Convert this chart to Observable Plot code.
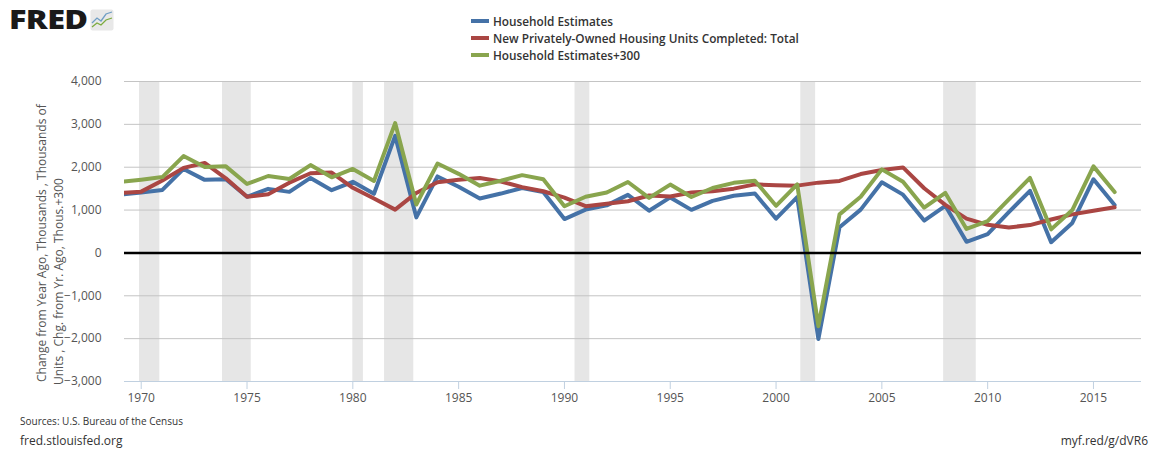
<!DOCTYPE html>
<html>
<head>
<meta charset="utf-8">
<script src="https://cdn.jsdelivr.net/npm/d3@7"></script>
<script src="https://cdn.jsdelivr.net/npm/@observablehq/plot@0.6"></script>
<style>
  body { margin: 0; background: #fff; font-family: "Open Sans", sans-serif; }
  #wrap { position: relative; width: 1168px; height: 450px; overflow: hidden; background: #fff; }
  #logotext { position: absolute; left: 9px; top: 3px; font-family: "Open Sans", "DejaVu Sans", sans-serif; font-weight: 800; font-size: 27px; letter-spacing: -0.5px; color: #1a1a1a; line-height: 32px; transform: scaleX(1.2); transform-origin: 0 0; }
  #logoicon { position: absolute; left: 90px; top: 9px; }
  #legend { position: absolute; left: 471px; top: 12px; font-size: 11.8px; color: #333; font-weight: 600; }
  .lg { display: flex; align-items: center; height: 17.3px; }
  .sw { width: 18px; height: 4px; margin-right: 4px; }
  #chart { position: absolute; left: 0; top: 70px; }
  .yt { position: absolute; white-space: nowrap; font-size: 12px; color: #555; transform-origin: 0 0; transform: rotate(-90deg); }
  #src { position: absolute; left: 20px; top: 414px; font-size: 10px; color: #333; }
  #site { position: absolute; left: 20px; top: 432px; font-size: 12px; color: #333; }
  #link { position: absolute; right: 20px; top: 432px; font-size: 12px; color: #333; }
</style>
</head>
<body>
<div id="wrap">
  <div id="logotext">FRED</div>
  <svg id="logoicon" width="24" height="22" viewBox="0 0 24 22"><rect x="0.5" y="0.5" width="23" height="21" rx="2" fill="#e8e8e8"/><polyline points="2,14 7,9 11,12 16,5 22,3" fill="none" stroke="#6f9ec4" stroke-width="1.3"/><polyline points="2,18 7,14 11,16 16,11 22,9" fill="none" stroke="#7cab3e" stroke-width="1.3"/></svg>
  <div id="legend"></div>
  <div id="chart"></div>
  <div class="yt" style="left:33px; top:382px;">Change from Year Ago, Thousands , Thousands of</div>
  <div class="yt" style="left:50px; top:385px;">Units , Chg. from Yr. Ago, Thous.+300</div>
  <div id="src">Sources: U.S. Bureau of the Census</div>
  <div id="site">fred.stlouisfed.org</div>
  <div id="link">myf.red/g/dVR6</div>
</div>
<script>
const years = [1969,1970,1971,1972,1973,1974,1975,1976,1977,1978,1979,1980,1981,1982,1983,1984,1985,1986,1987,1988,1989,1990,1991,1992,1993,1994,1995,1996,1997,1998,1999,2000,2001,2002,2003,2004,2005,2006,2007,2008,2009,2010,2011,2012,2013,2014,2015,2016];

const householdChange = [1360,1410,1470,1960,1705,1720,1310,1495,1425,1750,1465,1660,1380,2730,830,1785,1545,1270,1385,1515,1420,790,1010,1110,1355,985,1295,1005,1215,1335,1385,800,1300,-2010,600,1010,1650,1360,755,1100,260,440,950,1450,250,700,1720,1120];

const housingCompleted = [1400,1430,1690,1985,2100,1740,1310,1370,1640,1860,1875,1520,1270,1010,1400,1650,1705,1750,1665,1535,1440,1290,1090,1150,1205,1340,1315,1410,1440,1500,1600,1580,1570,1640,1680,1840,1935,1995,1510,1120,800,655,595,650,780,900,985,1065];

const householdPlus300 = [1660,1710,1770,2260,2005,2020,1610,1795,1725,2050,1765,1960,1680,3030,1130,2085,1845,1570,1685,1815,1720,1090,1310,1410,1655,1285,1595,1305,1515,1635,1685,1100,1600,-1710,900,1310,1950,1660,1055,1400,560,740,1250,1750,550,1000,2020,1420];

const seriesNames = ["Household Estimates", "New Privately-Owned Housing Units Completed: Total", "Household Estimates+300"];
const seriesColors = ["#4572a7", "#aa4643", "#89a54e"];

// Recession periods (fractional years)
const recessionStart = [1969.92, 1973.84, 1980.0, 1981.5, 1990.5, 2001.17, 2007.92];
const recessionEnd   = [1970.88, 1975.2, 1980.5, 1982.88, 1991.2, 2001.87, 2009.46];

const xTicks = [1970,1975,1980,1985,1990,1995,2000,2005,2010,2015];
const yTicks = [-3000,-2000,-1000,0,1000,2000,3000,4000];

const seriesValues = [householdChange, housingCompleted, householdPlus300];
const rows = [];
seriesValues.forEach((vals, s) => {
  vals.forEach((v, i) => rows.push({series: seriesNames[s], year: years[i], value: v}));
});
const recessions = recessionStart.map((s, i) => ({start: s, end: recessionEnd[i]}));

const legend = document.getElementById("legend");
seriesNames.forEach((n, i) => {
  const d = document.createElement("div");
  d.className = "lg";
  d.innerHTML = `<span class="sw" style="background:${seriesColors[i]}"></span><span>${n}</span>`;
  legend.appendChild(d);
});

const chart = Plot.plot({
  width: 1168,
  height: 340,
  marginTop: 11,
  marginBottom: 29,
  marginLeft: 124,
  marginRight: 27,
  style: {fontFamily: "Open Sans", fontSize: "12px", color: "#555", background: "transparent"},
  x: {type: "linear", domain: [1969.21, 2017.27], label: null},
  y: {domain: [-3000, 4000], label: null},
  color: {domain: seriesNames, range: seriesColors},
  marks: [
    Plot.rect(recessions, {x1: "start", x2: "end", fill: "#e6e6e6"}),
    Plot.gridY(yTicks.filter(d => d > -3000), {stroke: "#c4c4c4", strokeOpacity: 1, strokeWidth: 1}),
    Plot.ruleY([-3000], {stroke: "#c0d0e0", strokeWidth: 1}),
    Plot.axisY(yTicks, {tickSize: 0, tickPadding: 23, tickFormat: d3.format(","), fill: "#555", label: null}),
    Plot.axisX(xTicks, {tickSize: 8, tickPadding: 4, tickFormat: d => String(d), stroke: "#c0d0e0", fill: "#555", label: null}),
    Plot.line(rows, {x: "year", y: "value", z: "series", stroke: "series", strokeWidth: 4, strokeLinejoin: "round", clip: true}),
    Plot.ruleY([0], {stroke: "#000", strokeWidth: 2.5})
  ]
});
document.getElementById("chart").appendChild(chart);
</script>
</body>
</html>
